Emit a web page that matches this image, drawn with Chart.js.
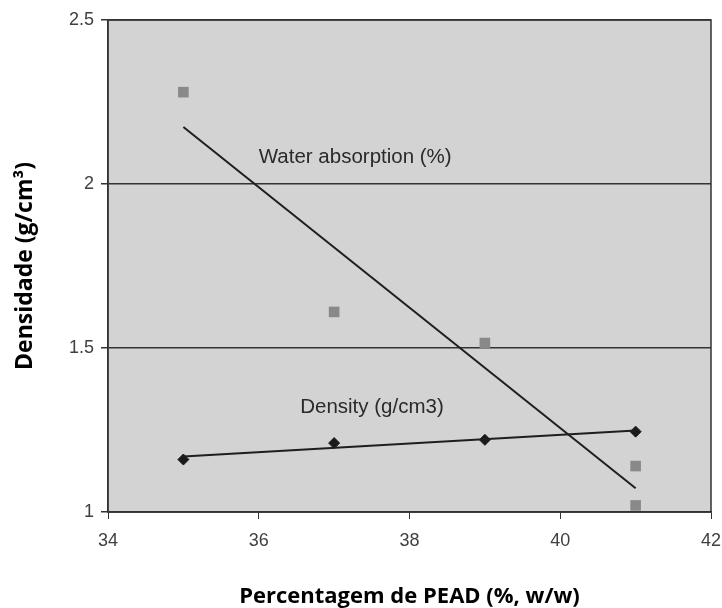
<!DOCTYPE html>
<html>
<head>
<meta charset="utf-8">
<script src="https://cdn.jsdelivr.net/npm/chart.js@4"></script>
<style>
  html, body { margin: 0; padding: 0; background: #fff; }
  #wrap { width: 722px; height: 608px; position: relative; }
</style>
</head>
<body>
<div id="wrap"><canvas id="chart"></canvas></div>
<script>
// PEAD content (%, w/w)
const waterX = [35, 37, 39, 41, 41];
const waterY = [2.28, 1.61, 1.515, 1.14, 1.02];
const densityX = [35, 37, 39, 41];
const densityY = [1.16, 1.21, 1.22, 1.245];

const xTicks = [34, 36, 38, 40, 42];
const yTicks = [1, 1.5, 2, 2.5];

const seriesLabels = ['Water absorption (%)', 'Density (g/cm3)'];
const labelAnchors = [[36.0, 2.08], [36.55, 1.32]];

// least squares line over the points, drawn from first to last x
function fitLine(xs, ys) {
    const n = xs.length;
    const mx = xs.reduce((a, b) => a + b, 0) / n;
    const my = ys.reduce((a, b) => a + b, 0) / n;
    let sxy = 0, sxx = 0;
    xs.forEach((x, i) => { sxy += (x - mx) * (ys[i] - my); sxx += (x - mx) ** 2; });
    const k = sxy / sxx;
    const x0 = Math.min(...xs), x1 = Math.max(...xs);
    return [{ x: x0, y: my + k * (x0 - mx) }, { x: x1, y: my + k * (x1 - mx) }];
}

const toPts = (xs, ys) => xs.map((x, i) => ({ x, y: ys[i] }));

const plotBox = {
    id: 'plotBox',
    beforeDraw(chart) {
        const { ctx, chartArea: a } = chart;
        ctx.save();
        ctx.fillStyle = '#d3d3d3';
        ctx.fillRect(a.left, a.top, a.right - a.left, a.bottom - a.top);
        ctx.restore();
    },
    afterDraw(chart) {
        const { ctx, chartArea: a, scales } = chart;
        ctx.save();
        ctx.strokeStyle = '#333';
        ctx.lineWidth = 1.5;
        ctx.strokeRect(a.left, a.top, a.right - a.left, a.bottom - a.top);
        ctx.fillStyle = '#2a2a2a';
        ctx.font = '20.5px "Liberation Sans", Arial, sans-serif';
        ctx.textBaseline = 'middle';
        seriesLabels.forEach((t, i) => {
            ctx.fillText(t, scales.x.getPixelForValue(labelAnchors[i][0]), scales.y.getPixelForValue(labelAnchors[i][1]));
        });
        ctx.restore();
    }
};

const tickFont = { family: '"Liberation Sans", Arial, sans-serif', size: 18 };
const titleFont = { family: '"Open Sans", sans-serif', size: 22, weight: 'bold' };

new Chart(document.getElementById('chart'), {
    type: 'scatter',
    data: {
        datasets: [
            {
                label: 'Water fit',
                type: 'line',
                data: fitLine(waterX, waterY),
                borderColor: '#1e1e1e',
                borderWidth: 2,
                pointRadius: 0,
                showLine: true
            },
            {
                label: 'Density fit',
                type: 'line',
                data: fitLine(densityX, densityY),
                borderColor: '#1e1e1e',
                borderWidth: 2,
                pointRadius: 0,
                showLine: true
            },
            {
                label: seriesLabels[0],
                data: toPts(waterX, waterY),
                pointStyle: 'rect',
                radius: 7.5,
                backgroundColor: '#898989',
                borderColor: '#898989',
                borderWidth: 0
            },
            {
                label: seriesLabels[1],
                data: toPts(densityX, densityY),
                pointStyle: 'rectRot',
                radius: 5.5,
                backgroundColor: '#1a1a1a',
                borderColor: '#1a1a1a',
                borderWidth: 1
            }
        ]
    },
    options: {
        responsive: true,
        maintainAspectRatio: false,
        animation: false,
        layout: { padding: { top: 20, right: 11, left: 0, bottom: 0 } },
        plugins: { legend: { display: false }, tooltip: { enabled: false } },
        scales: {
            x: {
                type: 'linear',
                min: 34, max: 42,
                afterBuildTicks: (s) => { s.ticks = xTicks.map(v => ({ value: v })); },
                afterFit: (s) => { s.height = 96; s.paddingRight = 0; s.paddingLeft = 0; },
                grid: { drawOnChartArea: false, drawTicks: true, tickLength: 7, color: '#333' },
                border: { color: '#333', width: 1.5 },
                ticks: { color: '#404040', font: tickFont, padding: 11, maxRotation: 0 },
                title: { display: true, text: 'Percentagem de PEAD (%, w/w)', color: '#000', font: titleFont, padding: { top: 33, bottom: -2 } }
            },
            y: {
                type: 'linear',
                min: 1, max: 2.5,
                afterBuildTicks: (s) => { s.ticks = yTicks.map(v => ({ value: v })); },
                afterFit: (s) => { s.width = 108; s.paddingTop = 0; s.paddingBottom = 0; },
                grid: { drawOnChartArea: true, drawTicks: true, tickLength: 7, color: '#333', lineWidth: 1.5 },
                border: { color: '#333', width: 1.5 },
                ticks: { color: '#404040', font: tickFont, padding: 7, callback: (v) => String(v) },
                title: { display: true, text: 'Densidade (g/cm³)', color: '#000', font: { ...titleFont, size: 23 }, padding: { top: 12, bottom: 8 } }
            }
        }
    },
    plugins: [plotBox]
});
</script>
</body>
</html>
